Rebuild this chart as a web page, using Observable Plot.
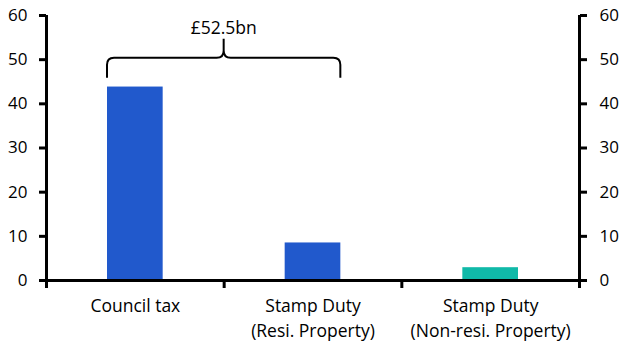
<!DOCTYPE html>
<html>
<head>
<meta charset="utf-8">
<script src="https://cdn.jsdelivr.net/npm/d3@7"></script>
<script src="https://cdn.jsdelivr.net/npm/@observablehq/plot@0.6"></script>
<style>
  html, body { margin: 0; padding: 0; background: #fff; }
  #chart { width: 631px; height: 357px; }
</style>
</head>
<body>
<div id="chart"></div>
<script>
const categories = ["Council tax", "Stamp Duty\n(Resi. Property)", "Stamp Duty\n(Non-resi. Property)"];
const values = [43.8, 8.5, 2.9];
const colors = ["#2159CC", "#2159CC", "#10B9A8"];
const yTicks = [0, 10, 20, 30, 40, 50, 60];
const braceLabel = "£52.5bn";
const braceFrom = 0; // first bar in the brace
const braceTo = 1;   // last bar in the brace

const data = categories.map((c, i) => ({i, c, v: values[i], color: colors[i]}));
const font = "'Open Sans', sans-serif";
const inset = 61;

// custom brace mark drawn through the plot's scales
function braceMark() {
  return (index, scales, values_, dims) => {
    const x0 = scales.x(braceFrom) + inset;
    const x1 = scales.x(braceTo + 1) - inset;
    const xm = (x0 + x1) / 2;
    const yLine = scales.y(50.3);
    const yEnd = scales.y(45.8);
    const yTip = scales.y(54.6);
    const r = 7;
    const d = `M${x0},${yEnd} L${x0},${yLine + r} Q${x0},${yLine} ${x0 + r},${yLine} L${xm - r},${yLine} Q${xm},${yLine} ${xm},${yLine - r} L${xm},${yTip} ` +
              `M${xm},${yLine - r} Q${xm},${yLine} ${xm + r},${yLine} L${x1 - r},${yLine} Q${x1},${yLine} ${x1},${yLine + r} L${x1},${yEnd}`;
    const g = d3.create("svg:g");
    g.append("path").attr("d", d).attr("fill", "none").attr("stroke", "#000").attr("stroke-width", 2);
    g.append("text").attr("x", xm).attr("y", scales.y(56.8)).attr("text-anchor", "middle")
      .attr("dominant-baseline", "middle").attr("font-size", 17.5).attr("font-family", font).attr("fill", "#000").text(braceLabel);
    return g.node();
  };
}

const plot = Plot.plot({
  width: 631,
  height: 357,
  marginLeft: 46,
  marginRight: 52,
  marginTop: 15,
  marginBottom: 77,
  style: {fontFamily: font, fontSize: "17px", color: "#000", background: "#fff"},
  x: {type: "linear", domain: [0, 3]},
  y: {domain: [0, 60]},
  marks: [
    Plot.rectY(data, {x1: d => d.i, x2: d => d.i + 1, y: "v", fill: d => d.color, insetLeft: inset, insetRight: inset}),
    Plot.axisY({anchor: "left", ticks: yTicks, tickSize: 7, tickPadding: 12, strokeWidth: 3, label: null, fontSize: 17}),
    Plot.axisY({anchor: "right", ticks: yTicks, tickSize: 7, tickPadding: 13, strokeWidth: 3, label: null, fontSize: 17}),
    Plot.axisX({ticks: [0, 1, 2, 3], tickSize: 8, strokeWidth: 3, tickFormat: () => "", label: null}),
    Plot.axisX({ticks: [0.5, 1.5, 2.5], tickSize: 0, tickPadding: 14, tickFormat: d => categories[Math.floor(d)], label: null, fontSize: 17.5, lineHeight: 1.43}),
    Plot.ruleX([0, 3], {stroke: "#000", strokeWidth: 3}),
    Plot.ruleY([0], {stroke: "#000", strokeWidth: 3}),
    braceMark()
  ]
});
document.getElementById("chart").appendChild(plot);
</script>
</body>
</html>
